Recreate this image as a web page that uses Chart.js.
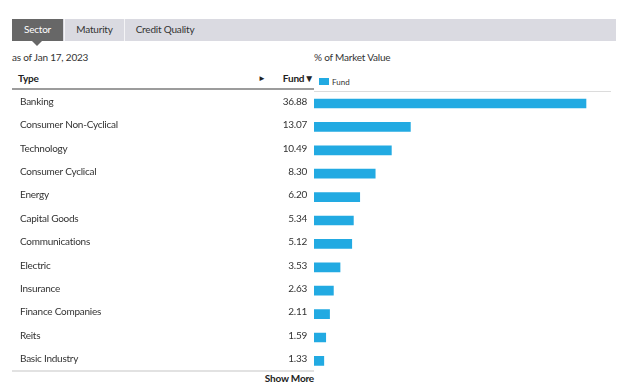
<!DOCTYPE html>
<html>
<head>
<meta charset="utf-8">
<script src="https://cdn.jsdelivr.net/npm/chart.js@4/dist/chart.umd.min.js"></script>
<style>
  html, body { margin: 0; padding: 0; background: #fff; }
  body { width: 640px; height: 390px; position: relative; overflow: hidden;
         font-family: Lato, sans-serif; color: #333; font-size: 10px; letter-spacing: -0.2px; }
  .abs { position: absolute; white-space: nowrap; line-height: 1; }
  #tabs { position: absolute; left: 12px; top: 19px; width: 604px; height: 22px; background: #dadae1; }
  .tab { position: absolute; top: 0; height: 22px; line-height: 21px; text-align: center; font-size: 10px; color: #333; }
  #chartWrap { position: absolute; left: 0; top: 0; width: 640px; height: 390px; pointer-events: none; }
</style>
</head>
<body>
<div id="tabs">
  <div class="tab" style="left:0;width:51px;background:#676767;color:#fff;">Sector</div>
  <div class="tab" style="left:52px;width:59px;border-left:1px solid #f4f4f6;">Maturity</div>
  <div class="tab" style="left:112px;width:80px;border-left:1px solid #f4f4f6;">Credit Quality</div>
</div>
<div class="abs" style="left:32px;top:41px;width:0;height:0;border-left:5px solid transparent;border-right:5px solid transparent;border-top:5px solid #676767;"></div>

<div class="abs" style="left:12px;top:52px;">as of Jan 17, 2023</div>
<div class="abs" style="left:314px;top:52px;">% of Market Value</div>

<div class="abs" style="left:18px;top:73px;font-weight:bold;color:#222;">Type</div>
<div class="abs" style="left:258px;top:74px;font-size:8px;color:#222;">&#9658;</div>
<div class="abs" style="left:270px;top:73px;width:44px;text-align:right;font-weight:bold;color:#222;">Fund&#9660;</div>
<div class="abs" style="left:12px;top:88px;width:302px;height:2px;background:#9c9c9c;"></div>

<div class="abs" style="left:319px;top:78px;width:10px;height:7px;background:#22aae2;"></div>
<div class="abs" style="left:332px;top:78px;font-size:8px;letter-spacing:0;">Fund</div>
<div class="abs" style="left:314px;top:91px;width:297px;height:1px;background:#dcdcdc;"></div>

<div class="abs" style="left:12px;top:370px;width:302px;height:2px;background:#e2e2e2;"></div>
<div class="abs" style="left:214px;top:373px;width:100px;text-align:right;font-weight:bold;color:#222;">Show More</div>

<div id="chartWrap"><canvas id="sectorChart" width="640" height="390"></canvas></div>

<script>
  'use strict';

  // Sector breakdown, % of market value
  var sectors = ["Banking", "Consumer Non-Cyclical", "Technology", "Consumer Cyclical", "Energy",
                 "Capital Goods", "Communications", "Electric", "Insurance", "Finance Companies",
                 "Reits", "Basic Industry"];
  var fundValues = [36.88, 13.07, 10.49, 8.30, 6.20, 5.34, 5.12, 3.53, 2.63, 2.11, 1.59, 1.33];
  var valueLabels = ["36.88", "13.07", "10.49", "8.30", "6.20", "5.34", "5.12", "3.53", "2.63", "2.11", "1.59", "1.33"];

  // draws the Type / Fund columns next to each bar
  var tableText = {
    id: 'tableText',
    afterDatasetsDraw: function (chart) {
      var ctx = chart.ctx;
      var yScale = chart.scales.y;
      ctx.save();
      ctx.font = '10px Lato, sans-serif';
      if ('letterSpacing' in ctx) ctx.letterSpacing = '-0.25px';
      ctx.fillStyle = '#333';
      ctx.textBaseline = 'middle';
      sectors.forEach(function (name, i) {
        var y = yScale.getPixelForValue(i) - 2;
        ctx.textAlign = 'left';
        ctx.fillText(name, 20, y);
        ctx.textAlign = 'right';
        ctx.fillText(valueLabels[i], 307, y);
      });
      ctx.restore();
    }
  };

  var ctx = document.getElementById('sectorChart').getContext('2d');
  new Chart(ctx, {
    type: 'bar',
    data: {
      labels: sectors,
      datasets: [{
        label: 'Fund',
        data: fundValues,
        backgroundColor: '#22aae2',
        borderWidth: 0,
        barThickness: 9
      }]
    },
    options: {
      indexAxis: 'y',
      responsive: false,
      animation: false,
      layout: { padding: { left: 314, right: 31, top: 91.8, bottom: 17.4 } },
      plugins: { legend: { display: false }, tooltip: { enabled: false } },
      scales: {
        x: { display: false, min: 0, max: 40 },
        y: { display: false }
      }
    },
    plugins: [tableText]
  });
</script>
</body>
</html>
